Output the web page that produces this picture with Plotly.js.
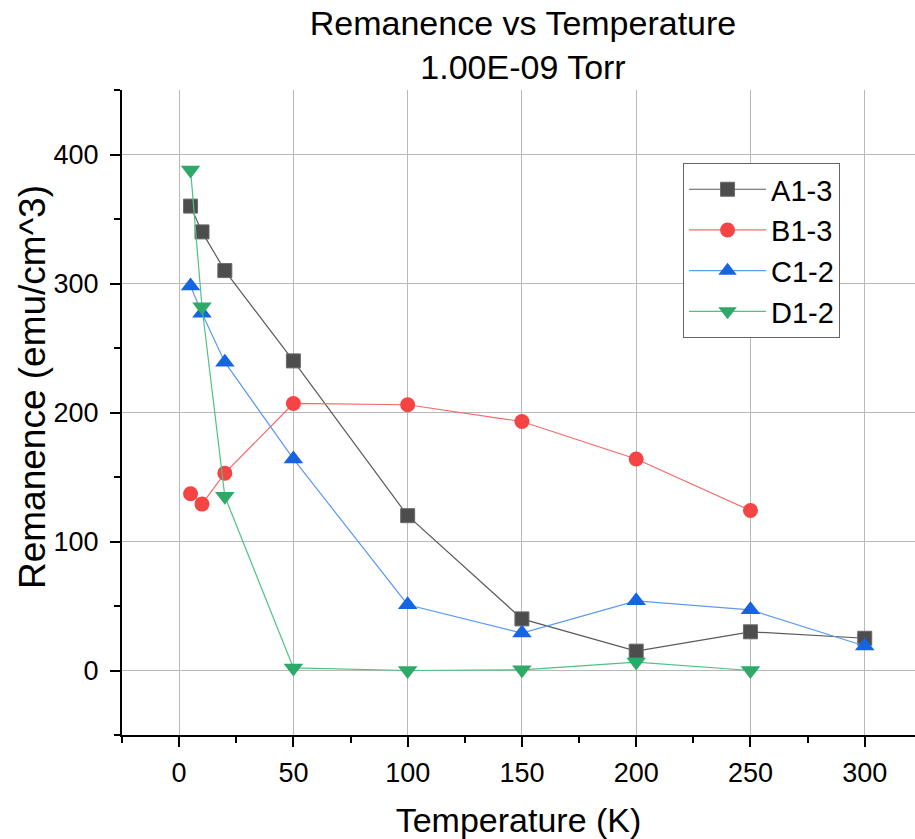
<!DOCTYPE html>
<html>
<head>
<meta charset="utf-8">
<script src="https://cdn.plot.ly/plotly-3.0.1.min.js"></script>
<style>html,body{margin:0;padding:0;background:#fff;}#chart{width:915px;height:839px;}</style>
</head>
<body>
<div id="chart"></div>
<script>
const temperature = [5, 10, 20, 50, 100, 150, 200, 250, 300];
const tempB = [5, 10, 20, 50, 100, 150, 200, 250];
const tempD = [5, 10, 20, 50, 100, 150, 200, 250];
const seriesA = [360, 340, 310, 240, 120, 40, 15, 30, 25];
const seriesB = [137, 129, 153, 207, 206, 193, 164, 124];
const seriesC = [298, 277, 239, 164, 51, 29, 54, 47, 19];
const seriesD = [388, 282, 135, 2, 0, 0.5, 6.5, 0];
const names = ['A1-3', 'B1-3', 'C1-2', 'D1-2'];
const xTicks = [0, 50, 100, 150, 200, 250, 300];
const yTicks = [0, 100, 200, 300, 400];

const FONT = 'Liberation Sans, Arial, sans-serif';

const traces = [
  {x: temperature, y: seriesA, name: names[0], mode: 'lines+markers',
   line: {color: '#5a5a5a', width: 1.2},
   marker: {symbol: 'square', size: 14, color: '#4d4d4d', line: {color: '#6a6a6a', width: 1}}},
  {x: tempB, y: seriesB, name: names[1], mode: 'lines+markers',
   line: {color: '#f46a6a', width: 1.2},
   marker: {symbol: 'circle', size: 15, color: '#f44444', line: {width: 0}}},
  {x: temperature, y: seriesC, name: names[2], mode: 'lines+markers',
   line: {color: '#5b9bf0', width: 1.2},
   marker: {symbol: 'triangle-up', size: 17, color: '#1565e0', line: {width: 0}}},
  {x: tempD, y: seriesD, name: names[3], mode: 'lines+markers',
   line: {color: '#4fc283', width: 1.2},
   marker: {symbol: 'triangle-down', size: 17, color: '#2eaa68', line: {width: 0}}}
];

const layout = {
  width: 915, height: 839,
  margin: {l: 122, r: 0, t: 90, b: 104},
  paper_bgcolor: '#fff', plot_bgcolor: '#fff',
  font: {family: FONT, color: '#000'},
  showlegend: true,
  title: {
    text: 'Remanence vs Temperature<br>1.00E-09 Torr',
    font: {size: 34, family: FONT, color: '#000'},
    x: 0.5057, xref: 'paper', xanchor: 'center',
    y: 1 - 35 / 839, yref: 'container', yanchor: 'middle'
  },
  xaxis: {
    range: [-25, 322], autorange: false,
    tickvals: xTicks,
    ticktext: xTicks.map(String),
    showline: true, linecolor: '#000', linewidth: 2,
    ticks: 'outside', ticklen: 10, tickwidth: 2, tickcolor: '#000',
    ticklabelstandoff: 3,
    tickfont: {size: 27, family: FONT},
    showgrid: true, gridcolor: '#b9b9b9', gridwidth: 1,
    zeroline: false,
    minor: {dtick: 25, tick0: 0, ticks: 'outside', ticklen: 6, tickwidth: 2, tickcolor: '#000', showgrid: false},
    title: {text: 'Temperature (K)', font: {size: 34, family: FONT}, standoff: 24}
  },
  yaxis: {
    range: [-50, 450], autorange: false,
    tickvals: yTicks,
    ticktext: yTicks.map(String),
    showline: true, linecolor: '#000', linewidth: 2,
    ticks: 'outside', ticklen: 10, tickwidth: 2, tickcolor: '#000',
    ticklabelstandoff: 6,
    tickfont: {size: 27, family: FONT},
    showgrid: true, gridcolor: '#b9b9b9', gridwidth: 1,
    zeroline: false,
    minor: {dtick: 50, tick0: 0, ticks: 'outside', ticklen: 6, tickwidth: 2, tickcolor: '#000', showgrid: false}
  },
  legend: {
    x: 0.7075, y: 0.887, xanchor: 'left', yanchor: 'top',
    bgcolor: '#fff', bordercolor: '#666', borderwidth: 1,
    font: {size: 29, family: FONT, color: '#000'},
    itemwidth: 77,
    tracegroupgap: 0
  },
  annotations: [{
    text: 'Remanence (emu/cm^3)', textangle: -90,
    xref: 'paper', yref: 'paper',
    x: (33 - 122) / 793, y: (735 - 387) / 645,
    xanchor: 'center', yanchor: 'middle', showarrow: false,
    font: {size: 37, family: FONT, color: '#000'}
  }]
};

Plotly.newPlot('chart', traces, layout, {displayModeBar: false, staticPlot: true});
</script>
</body>
</html>
